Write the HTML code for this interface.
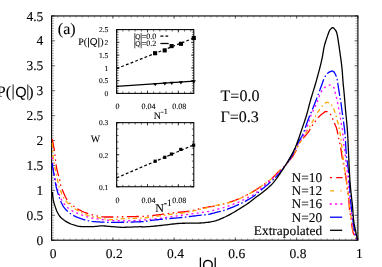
<!DOCTYPE html>
<html><head><meta charset="utf-8"><title>plot</title>
<style>html,body{margin:0;padding:0;background:#fff;}body{width:382px;height:267px;overflow:hidden;position:relative;font-family:"Liberation Serif",serif;}</style>
</head><body>
<svg width="382" height="267" viewBox="0 0 382 267" style="position:absolute;left:0;top:0">
<rect x="0" y="0" width="382" height="267" fill="#fff"/>
<path d="M51.60 240.2 v-1.92 M51.60 15.95 v1.92 M57.73 240.2 v-1.92 M57.73 15.95 v1.92 M63.85 240.2 v-1.92 M63.85 15.95 v1.92 M69.98 240.2 v-1.92 M69.98 15.95 v1.92 M76.10 240.2 v-1.92 M76.10 15.95 v1.92 M82.23 240.2 v-1.92 M82.23 15.95 v1.92 M88.36 240.2 v-1.92 M88.36 15.95 v1.92 M94.48 240.2 v-1.92 M94.48 15.95 v1.92 M100.61 240.2 v-1.92 M100.61 15.95 v1.92 M106.73 240.2 v-1.92 M106.73 15.95 v1.92 M112.86 240.2 v-1.92 M112.86 15.95 v1.92 M118.99 240.2 v-1.92 M118.99 15.95 v1.92 M125.11 240.2 v-1.92 M125.11 15.95 v1.92 M131.24 240.2 v-1.92 M131.24 15.95 v1.92 M137.36 240.2 v-1.92 M137.36 15.95 v1.92 M143.49 240.2 v-1.92 M143.49 15.95 v1.92 M149.62 240.2 v-1.92 M149.62 15.95 v1.92 M155.74 240.2 v-1.92 M155.74 15.95 v1.92 M161.87 240.2 v-1.92 M161.87 15.95 v1.92 M167.99 240.2 v-1.92 M167.99 15.95 v1.92 M174.12 240.2 v-1.92 M174.12 15.95 v1.92 M180.25 240.2 v-1.92 M180.25 15.95 v1.92 M186.37 240.2 v-1.92 M186.37 15.95 v1.92 M192.50 240.2 v-1.92 M192.50 15.95 v1.92 M198.62 240.2 v-1.92 M198.62 15.95 v1.92 M204.75 240.2 v-1.92 M204.75 15.95 v1.92 M210.88 240.2 v-1.92 M210.88 15.95 v1.92 M217.00 240.2 v-1.92 M217.00 15.95 v1.92 M223.13 240.2 v-1.92 M223.13 15.95 v1.92 M229.25 240.2 v-1.92 M229.25 15.95 v1.92 M235.38 240.2 v-1.92 M235.38 15.95 v1.92 M241.51 240.2 v-1.92 M241.51 15.95 v1.92 M247.63 240.2 v-1.92 M247.63 15.95 v1.92 M253.76 240.2 v-1.92 M253.76 15.95 v1.92 M259.88 240.2 v-1.92 M259.88 15.95 v1.92 M266.01 240.2 v-1.92 M266.01 15.95 v1.92 M272.14 240.2 v-1.92 M272.14 15.95 v1.92 M278.26 240.2 v-1.92 M278.26 15.95 v1.92 M284.39 240.2 v-1.92 M284.39 15.95 v1.92 M290.51 240.2 v-1.92 M290.51 15.95 v1.92 M296.64 240.2 v-1.92 M296.64 15.95 v1.92 M302.77 240.2 v-1.92 M302.77 15.95 v1.92 M308.89 240.2 v-1.92 M308.89 15.95 v1.92 M315.02 240.2 v-1.92 M315.02 15.95 v1.92 M321.14 240.2 v-1.92 M321.14 15.95 v1.92 M327.27 240.2 v-1.92 M327.27 15.95 v1.92 M333.40 240.2 v-1.92 M333.40 15.95 v1.92 M339.52 240.2 v-1.92 M339.52 15.95 v1.92 M345.65 240.2 v-1.92 M345.65 15.95 v1.92 M351.77 240.2 v-1.92 M351.77 15.95 v1.92 M357.90 240.2 v-1.92 M357.90 15.95 v1.92 M51.6 240.20 h2.4 M357.9 240.20 h-2.4 M51.6 237.71 h2.4 M357.9 237.71 h-2.4 M51.6 235.22 h2.4 M357.9 235.22 h-2.4 M51.6 232.72 h2.4 M357.9 232.72 h-2.4 M51.6 230.23 h2.4 M357.9 230.23 h-2.4 M51.6 227.74 h2.4 M357.9 227.74 h-2.4 M51.6 225.25 h2.4 M357.9 225.25 h-2.4 M51.6 222.76 h2.4 M357.9 222.76 h-2.4 M51.6 220.27 h2.4 M357.9 220.27 h-2.4 M51.6 217.77 h2.4 M357.9 217.77 h-2.4 M51.6 215.28 h2.4 M357.9 215.28 h-2.4 M51.6 212.79 h2.4 M357.9 212.79 h-2.4 M51.6 210.30 h2.4 M357.9 210.30 h-2.4 M51.6 207.81 h2.4 M357.9 207.81 h-2.4 M51.6 205.32 h2.4 M357.9 205.32 h-2.4 M51.6 202.82 h2.4 M357.9 202.82 h-2.4 M51.6 200.33 h2.4 M357.9 200.33 h-2.4 M51.6 197.84 h2.4 M357.9 197.84 h-2.4 M51.6 195.35 h2.4 M357.9 195.35 h-2.4 M51.6 192.86 h2.4 M357.9 192.86 h-2.4 M51.6 190.37 h2.4 M357.9 190.37 h-2.4 M51.6 187.88 h2.4 M357.9 187.88 h-2.4 M51.6 185.38 h2.4 M357.9 185.38 h-2.4 M51.6 182.89 h2.4 M357.9 182.89 h-2.4 M51.6 180.40 h2.4 M357.9 180.40 h-2.4 M51.6 177.91 h2.4 M357.9 177.91 h-2.4 M51.6 175.42 h2.4 M357.9 175.42 h-2.4 M51.6 172.92 h2.4 M357.9 172.92 h-2.4 M51.6 170.43 h2.4 M357.9 170.43 h-2.4 M51.6 167.94 h2.4 M357.9 167.94 h-2.4 M51.6 165.45 h2.4 M357.9 165.45 h-2.4 M51.6 162.96 h2.4 M357.9 162.96 h-2.4 M51.6 160.47 h2.4 M357.9 160.47 h-2.4 M51.6 157.97 h2.4 M357.9 157.97 h-2.4 M51.6 155.48 h2.4 M357.9 155.48 h-2.4 M51.6 152.99 h2.4 M357.9 152.99 h-2.4 M51.6 150.50 h2.4 M357.9 150.50 h-2.4 M51.6 148.01 h2.4 M357.9 148.01 h-2.4 M51.6 145.52 h2.4 M357.9 145.52 h-2.4 M51.6 143.02 h2.4 M357.9 143.02 h-2.4 M51.6 140.53 h2.4 M357.9 140.53 h-2.4 M51.6 138.04 h2.4 M357.9 138.04 h-2.4 M51.6 135.55 h2.4 M357.9 135.55 h-2.4 M51.6 133.06 h2.4 M357.9 133.06 h-2.4 M51.6 130.57 h2.4 M357.9 130.57 h-2.4 M51.6 128.07 h2.4 M357.9 128.07 h-2.4 M51.6 125.58 h2.4 M357.9 125.58 h-2.4 M51.6 123.09 h2.4 M357.9 123.09 h-2.4 M51.6 120.60 h2.4 M357.9 120.60 h-2.4 M51.6 118.11 h2.4 M357.9 118.11 h-2.4 M51.6 115.62 h2.4 M357.9 115.62 h-2.4 M51.6 113.12 h2.4 M357.9 113.12 h-2.4 M51.6 110.63 h2.4 M357.9 110.63 h-2.4 M51.6 108.14 h2.4 M357.9 108.14 h-2.4 M51.6 105.65 h2.4 M357.9 105.65 h-2.4 M51.6 103.16 h2.4 M357.9 103.16 h-2.4 M51.6 100.67 h2.4 M357.9 100.67 h-2.4 M51.6 98.17 h2.4 M357.9 98.17 h-2.4 M51.6 95.68 h2.4 M357.9 95.68 h-2.4 M51.6 93.19 h2.4 M357.9 93.19 h-2.4 M51.6 90.70 h2.4 M357.9 90.70 h-2.4 M51.6 88.21 h2.4 M357.9 88.21 h-2.4 M51.6 85.72 h2.4 M357.9 85.72 h-2.4 M51.6 83.22 h2.4 M357.9 83.22 h-2.4 M51.6 80.73 h2.4 M357.9 80.73 h-2.4 M51.6 78.24 h2.4 M357.9 78.24 h-2.4 M51.6 75.75 h2.4 M357.9 75.75 h-2.4 M51.6 73.26 h2.4 M357.9 73.26 h-2.4 M51.6 70.77 h2.4 M357.9 70.77 h-2.4 M51.6 68.27 h2.4 M357.9 68.27 h-2.4 M51.6 65.78 h2.4 M357.9 65.78 h-2.4 M51.6 63.29 h2.4 M357.9 63.29 h-2.4 M51.6 60.80 h2.4 M357.9 60.80 h-2.4 M51.6 58.31 h2.4 M357.9 58.31 h-2.4 M51.6 55.82 h2.4 M357.9 55.82 h-2.4 M51.6 53.32 h2.4 M357.9 53.32 h-2.4 M51.6 50.83 h2.4 M357.9 50.83 h-2.4 M51.6 48.34 h2.4 M357.9 48.34 h-2.4 M51.6 45.85 h2.4 M357.9 45.85 h-2.4 M51.6 43.36 h2.4 M357.9 43.36 h-2.4 M51.6 40.87 h2.4 M357.9 40.87 h-2.4 M51.6 38.38 h2.4 M357.9 38.38 h-2.4 M51.6 35.88 h2.4 M357.9 35.88 h-2.4 M51.6 33.39 h2.4 M357.9 33.39 h-2.4 M51.6 30.90 h2.4 M357.9 30.90 h-2.4 M51.6 28.41 h2.4 M357.9 28.41 h-2.4 M51.6 25.92 h2.4 M357.9 25.92 h-2.4 M51.6 23.42 h2.4 M357.9 23.42 h-2.4 M51.6 20.93 h2.4 M357.9 20.93 h-2.4 M51.6 18.44 h2.4 M357.9 18.44 h-2.4 M51.6 15.95 h2.4 M357.9 15.95 h-2.4" stroke="#666" stroke-width="0.5" fill="none"/>
<path d="M51.60 240.2 v-2.80 M51.60 15.95 v2.80 M112.86 240.2 v-2.80 M112.86 15.95 v2.80 M174.12 240.2 v-2.80 M174.12 15.95 v2.80 M235.38 240.2 v-2.80 M235.38 15.95 v2.80 M296.64 240.2 v-2.80 M296.64 15.95 v2.80 M357.90 240.2 v-2.80 M357.90 15.95 v2.80 M51.6 240.20 h3.5 M357.9 240.20 h-3.5 M51.6 215.28 h3.5 M357.9 215.28 h-3.5 M51.6 190.37 h3.5 M357.9 190.37 h-3.5 M51.6 165.45 h3.5 M357.9 165.45 h-3.5 M51.6 140.53 h3.5 M357.9 140.53 h-3.5 M51.6 115.62 h3.5 M357.9 115.62 h-3.5 M51.6 90.70 h3.5 M357.9 90.70 h-3.5 M51.6 65.78 h3.5 M357.9 65.78 h-3.5 M51.6 40.87 h3.5 M357.9 40.87 h-3.5 M51.6 15.95 h3.5 M357.9 15.95 h-3.5" stroke="#555" stroke-width="0.8" fill="none"/>
<rect x="51.6" y="15.95" width="306.30" height="224.25" fill="none" stroke="#000" stroke-width="1.1"/>
<path d="M52.20 139.20 L52.47 140.43 L52.73 141.66 L52.99 142.89 L53.23 144.13 L53.47 145.36 L53.70 146.60 L53.93 147.84 L54.15 149.08 L54.35 150.32 L54.54 151.56 L54.70 152.81 L54.85 154.06 L54.99 155.31 L55.13 156.56 L55.27 157.82 L55.40 159.07 L55.54 160.32 L55.67 161.57 L55.82 162.82 L55.99 164.07 L56.19 165.31 L56.40 166.55 L56.62 167.79 L56.86 169.03 L57.12 170.26 L57.41 171.48 L57.72 172.70 L58.06 173.91 L58.40 175.12 L58.75 176.34 L59.09 177.55 L59.41 178.77 L59.71 179.99 L59.97 181.22 L60.19 182.46 L60.41 183.71 L60.66 184.94 L60.98 186.15 L61.36 187.34 L61.79 188.53 L62.26 189.70 L62.75 190.87 L63.25 192.02 L63.76 193.18 L64.27 194.35 L64.81 195.52 L65.36 196.68 L65.94 197.81 L66.55 198.92 L67.20 199.98 L67.89 200.99 L68.64 201.94 L69.49 202.85 L70.42 203.72 L71.40 204.55 L72.41 205.34 L73.42 206.09 L74.44 206.81 L75.48 207.51 L76.54 208.20 L77.62 208.86 L78.72 209.51 L79.84 210.12 L80.96 210.70 L82.10 211.25 L83.24 211.76 L84.39 212.24 L85.55 212.69 L86.73 213.13 L87.93 213.55 L89.14 213.94 L90.35 214.30 L91.57 214.64 L92.79 214.94 L94.01 215.21 L95.24 215.49 L96.47 215.77 L97.71 216.04 L98.95 216.29 L100.20 216.52 L101.45 216.72 L102.70 216.87 L103.95 216.97 L105.20 217.00 L106.46 217.00 L107.71 217.00 L108.97 217.00 L110.23 217.00 L111.49 217.00 L112.75 217.00 L114.01 216.99 L115.27 216.96 L116.53 216.93 L117.79 216.90 L119.04 216.86 L120.30 216.82 L121.56 216.78 L122.82 216.75 L124.08 216.72 L125.34 216.69 L126.59 216.67 L127.85 216.65 L129.11 216.63 L130.37 216.61 L131.63 216.59 L132.89 216.58 L134.15 216.56 L135.41 216.54 L136.67 216.52 L137.92 216.49 L139.18 216.47 L140.44 216.44 L141.69 216.40 L142.95 216.35 L144.21 216.29 L145.46 216.20 L146.71 216.10 L147.97 215.99 L149.22 215.86 L150.47 215.73 L151.73 215.59 L152.98 215.45 L154.23 215.30 L155.48 215.15 L156.73 215.00 L157.98 214.86 L159.23 214.72 L160.48 214.56 L161.73 214.40 L162.98 214.23 L164.22 214.06 L165.47 213.89 L166.72 213.71 L167.96 213.53 L169.21 213.36 L170.46 213.20 L171.71 213.04 L172.96 212.89 L174.21 212.75 L175.46 212.61 L176.72 212.49 L177.97 212.36 L179.23 212.24 L180.48 212.12 L181.74 212.00 L182.99 211.87 L184.24 211.74 L185.49 211.59 L186.74 211.44 L187.98 211.28 L189.23 211.10 L190.46 210.91 L191.69 210.67 L192.92 210.40 L194.14 210.10 L195.36 209.79 L196.58 209.46 L197.80 209.14 L199.03 208.82 L200.25 208.52 L201.48 208.25 L202.71 208.00 L203.95 207.76 L205.19 207.54 L206.43 207.33 L207.67 207.12 L208.92 206.92 L210.16 206.72 L211.40 206.52 L212.65 206.31 L213.89 206.10 L215.13 205.88 L216.36 205.64 L217.59 205.39 L218.82 205.13 L220.04 204.85 L221.27 204.55 L222.49 204.24 L223.71 203.92 L224.92 203.59 L226.14 203.24 L227.35 202.88 L228.55 202.51 L229.75 202.14 L230.95 201.75 L232.14 201.35 L233.32 200.94 L234.51 200.52 L235.69 200.07 L236.86 199.61 L238.04 199.14 L239.20 198.65 L240.36 198.15 L241.52 197.64 L242.66 197.12 L243.80 196.58 L244.92 196.04 L246.04 195.48 L247.16 194.91 L248.26 194.32 L249.37 193.71 L250.46 193.09 L251.56 192.46 L252.64 191.82 L253.72 191.16 L254.80 190.50 L255.87 189.83 L256.94 189.15 L258.00 188.46 L259.05 187.77 L260.10 187.07 L261.15 186.37 L262.18 185.67 L263.22 184.96 L264.26 184.24 L265.29 183.51 L266.31 182.77 L267.32 182.01 L268.33 181.25 L269.32 180.47 L270.29 179.68 L271.25 178.87 L272.20 178.05 L273.11 177.19 L274.01 176.31 L274.89 175.41 L275.76 174.50 L276.64 173.59 L277.51 172.68 L278.41 171.79 L279.32 170.92 L280.24 170.07 L281.17 169.22 L282.11 168.37 L283.03 167.52 L283.95 166.65 L284.85 165.77 L285.72 164.87 L286.57 163.95 L287.41 163.01 L288.24 162.06 L289.05 161.09 L289.83 160.10 L290.60 159.11 L291.35 158.10 L292.10 157.08 L292.83 156.05 L293.54 155.00 L294.22 153.94 L294.85 152.86 L295.44 151.76 L295.97 150.62 L296.47 149.46 L296.96 148.29 L297.44 147.12 L297.95 145.97 L298.50 144.84 L299.12 143.76 L299.79 142.70 L300.50 141.66 L301.25 140.64 L302.02 139.63 L302.79 138.64 L303.60 137.68 L304.45 136.74 L305.31 135.81 L306.17 134.88 L307.01 133.94 L307.79 132.96 L308.51 131.95 L309.16 130.87 L309.77 129.77 L310.39 128.67 L311.03 127.58 L311.70 126.52 L312.39 125.46 L313.08 124.41 L313.78 123.37 L314.50 122.33 L315.24 121.31 L315.98 120.28 L316.74 119.28 L317.54 118.31 L318.38 117.39 L319.26 116.48 L320.17 115.61 L321.12 114.76 L322.10 113.96 L323.09 113.20 L324.12 112.37 L325.21 111.66 L326.38 111.52 L327.70 111.72 L328.75 112.06 L329.58 112.86 L330.31 114.00 L330.96 115.26 L331.56 116.40 L332.12 117.52 L332.64 118.67 L333.12 119.83 L333.59 121.01 L334.05 122.19 L334.53 123.35 L335.03 124.52 L335.53 125.68 L336.01 126.85 L336.44 128.03 L336.81 129.22 L337.09 130.44 L337.34 131.68 L337.59 132.92 L337.83 134.15 L338.06 135.39 L338.30 136.62 L338.55 137.86 L338.81 139.09 L339.09 140.32 L339.38 141.54 L339.67 142.77 L339.94 144.00 L340.18 145.23 L340.42 146.47 L340.64 147.70 L340.86 148.95 L341.07 150.19 L341.26 151.43 L341.44 152.68 L341.61 153.92 L341.79 155.17 L341.99 156.41 L342.20 157.65 L342.44 158.89 L342.69 160.12 L342.96 161.35 L343.23 162.58 L343.50 163.81 L343.76 165.04 L344.01 166.27 L344.26 167.51 L344.48 168.75 L344.68 169.99 L344.88 171.23 L345.07 172.48 L345.27 173.72 L345.48 174.96 L345.70 176.20 L345.91 177.44 L346.12 178.68 L346.29 179.93 L346.43 181.18 L346.56 182.43 L346.67 183.69 L346.77 184.94 L346.87 186.20 L346.99 187.45 L347.12 188.70 L347.27 189.95 L347.48 191.19 L347.71 192.43 L347.96 193.67 L348.20 194.90 L348.42 196.14 L348.59 197.39 L348.72 198.64 L348.82 199.89 L348.92 201.14 L349.00 202.40 L349.08 203.66 L349.17 204.92 L349.25 206.17 L349.35 207.43 L349.47 208.68 L349.60 209.93 L349.77 211.18 L349.95 212.42 L350.14 213.66 L350.35 214.91 L350.56 216.15 L350.77 217.39 L350.98 218.63 L351.18 219.88 L351.36 221.13 L351.53 222.38 L351.69 223.65 L351.84 224.91 L351.99 226.17 L352.16 227.43 L352.34 228.68 L352.55 229.91 L352.78 231.13 L353.06 232.33 L353.42 233.51 L353.93 234.67 L354.52 235.80 L355.14 236.90 L355.80 237.97 L356.52 239.00 L357.30 240.00" fill="none" stroke="#ff0000" stroke-width="1.3" stroke-dasharray="12 3.5 1.5 3.5 1.5 3.5" stroke-linejoin="round"/>
<path d="M52.30 143.00 L52.37 144.30 L52.43 145.59 L52.49 146.89 L52.56 148.18 L52.62 149.48 L52.68 150.78 L52.73 152.08 L52.79 153.37 L52.87 154.67 L52.98 155.96 L53.15 157.24 L53.37 158.52 L53.60 159.80 L53.81 161.08 L54.02 162.36 L54.23 163.64 L54.45 164.92 L54.68 166.20 L54.92 167.48 L55.17 168.75 L55.43 170.02 L55.69 171.29 L55.96 172.56 L56.23 173.83 L56.51 175.10 L56.78 176.37 L57.06 177.64 L57.33 178.90 L57.61 180.17 L57.87 181.45 L58.13 182.72 L58.40 183.99 L58.71 185.25 L59.05 186.49 L59.44 187.73 L59.86 188.96 L60.30 190.19 L60.76 191.40 L61.23 192.61 L61.72 193.83 L62.25 195.02 L62.81 196.19 L63.43 197.30 L64.11 198.39 L64.84 199.48 L65.63 200.54 L66.45 201.58 L67.31 202.58 L68.20 203.55 L69.11 204.46 L70.03 205.32 L71.00 206.13 L72.03 206.91 L73.09 207.65 L74.19 208.37 L75.31 209.06 L76.45 209.73 L77.59 210.38 L78.72 211.01 L79.86 211.64 L81.00 212.27 L82.15 212.90 L83.32 213.50 L84.50 214.07 L85.68 214.61 L86.88 215.09 L88.09 215.51 L89.32 215.86 L90.56 216.19 L91.81 216.50 L93.08 216.78 L94.36 217.04 L95.64 217.29 L96.93 217.53 L98.22 217.75 L99.50 217.98 L100.78 218.20 L102.06 218.45 L103.34 218.70 L104.62 218.95 L105.90 219.18 L107.19 219.38 L108.48 219.52 L109.76 219.59 L111.05 219.59 L112.34 219.56 L113.64 219.49 L114.93 219.40 L116.22 219.29 L117.52 219.18 L118.81 219.06 L120.11 218.94 L121.41 218.82 L122.70 218.72 L124.00 218.64 L125.30 218.58 L126.59 218.53 L127.89 218.49 L129.19 218.46 L130.49 218.42 L131.79 218.39 L133.09 218.37 L134.38 218.34 L135.68 218.31 L136.98 218.27 L138.28 218.23 L139.57 218.19 L140.86 218.14 L142.16 218.08 L143.45 217.99 L144.74 217.88 L146.03 217.75 L147.32 217.60 L148.60 217.43 L149.89 217.25 L151.18 217.06 L152.46 216.87 L153.75 216.68 L155.04 216.49 L156.32 216.30 L157.61 216.12 L158.89 215.95 L160.18 215.78 L161.47 215.61 L162.75 215.43 L164.04 215.26 L165.33 215.08 L166.61 214.91 L167.90 214.73 L169.18 214.56 L170.47 214.39 L171.76 214.23 L173.05 214.07 L174.34 213.93 L175.63 213.79 L176.92 213.65 L178.21 213.51 L179.50 213.37 L180.79 213.23 L182.08 213.07 L183.37 212.91 L184.65 212.72 L185.92 212.52 L187.20 212.29 L188.47 212.05 L189.74 211.78 L191.00 211.50 L192.27 211.21 L193.53 210.91 L194.80 210.60 L196.06 210.28 L197.32 209.97 L198.58 209.65 L199.85 209.34 L201.11 209.04 L202.37 208.74 L203.63 208.44 L204.89 208.14 L206.15 207.83 L207.41 207.52 L208.67 207.20 L209.93 206.89 L211.19 206.57 L212.45 206.26 L213.71 205.95 L214.97 205.64 L216.23 205.34 L217.50 205.04 L218.76 204.74 L220.03 204.46 L221.30 204.19 L222.58 203.94 L223.86 203.68 L225.14 203.43 L226.42 203.17 L227.69 202.90 L228.95 202.61 L230.21 202.30 L231.44 201.96 L232.67 201.59 L233.89 201.18 L235.10 200.72 L236.30 200.23 L237.49 199.71 L238.68 199.16 L239.86 198.60 L241.03 198.02 L242.20 197.43 L243.36 196.84 L244.51 196.25 L245.66 195.66 L246.81 195.06 L247.95 194.44 L249.09 193.81 L250.22 193.18 L251.34 192.53 L252.47 191.87 L253.58 191.20 L254.70 190.52 L255.80 189.84 L256.90 189.14 L258.00 188.44 L259.09 187.74 L260.17 187.02 L261.25 186.30 L262.32 185.58 L263.39 184.85 L264.45 184.10 L265.51 183.35 L266.57 182.58 L267.61 181.80 L268.64 181.00 L269.66 180.20 L270.66 179.37 L271.64 178.54 L272.60 177.68 L273.54 176.78 L274.45 175.86 L275.35 174.93 L276.25 173.99 L277.16 173.05 L278.07 172.12 L279.00 171.22 L279.95 170.33 L280.91 169.46 L281.88 168.58 L282.84 167.71 L283.79 166.82 L284.71 165.92 L285.61 164.99 L286.49 164.03 L287.34 163.06 L288.18 162.06 L289.00 161.05 L289.80 160.03 L290.58 158.99 L291.34 157.95 L292.10 156.88 L292.84 155.81 L293.55 154.72 L294.22 153.61 L294.86 152.49 L295.44 151.34 L295.97 150.15 L296.47 148.94 L296.97 147.74 L297.48 146.54 L298.04 145.37 L298.65 144.24 L299.35 143.16 L300.12 142.11 L300.90 141.06 L301.66 140.01 L302.37 138.92 L303.04 137.81 L303.70 136.69 L304.36 135.57 L305.03 134.46 L305.71 133.36 L306.41 132.26 L307.10 131.16 L307.78 130.06 L308.45 128.95 L309.10 127.82 L309.74 126.69 L310.37 125.56 L311.00 124.43 L311.63 123.29 L312.26 122.16 L312.89 121.02 L313.53 119.89 L314.16 118.76 L314.78 117.61 L315.40 116.47 L316.03 115.32 L316.66 114.19 L317.30 113.06 L317.97 111.95 L318.66 110.86 L319.38 109.79 L320.12 108.71 L320.89 107.64 L321.70 106.60 L322.55 105.63 L323.46 104.74 L324.46 103.80 L325.54 102.90 L326.67 102.35 L327.86 102.41 L329.14 102.93 L330.22 103.59 L331.10 104.42 L331.89 105.48 L332.59 106.67 L333.21 107.89 L333.75 109.05 L334.23 110.22 L334.68 111.43 L335.09 112.67 L335.48 113.92 L335.85 115.18 L336.20 116.45 L336.55 117.71 L336.90 118.96 L337.25 120.21 L337.59 121.46 L337.93 122.72 L338.25 123.97 L338.56 125.24 L338.85 126.50 L339.12 127.77 L339.36 129.04 L339.59 130.32 L339.81 131.59 L340.01 132.88 L340.20 134.16 L340.38 135.45 L340.56 136.73 L340.74 138.02 L340.91 139.31 L341.08 140.59 L341.24 141.88 L341.40 143.17 L341.56 144.46 L341.71 145.75 L341.85 147.04 L342.00 148.33 L342.14 149.62 L342.29 150.90 L342.43 152.19 L342.58 153.48 L342.73 154.77 L342.88 156.06 L343.04 157.35 L343.21 158.64 L343.37 159.92 L343.54 161.21 L343.70 162.50 L343.87 163.78 L344.04 165.07 L344.22 166.36 L344.39 167.64 L344.57 168.93 L344.75 170.21 L344.93 171.50 L345.11 172.78 L345.31 174.07 L345.51 175.35 L345.71 176.63 L345.92 177.91 L346.13 179.19 L346.34 180.47 L346.56 181.75 L346.76 183.03 L346.97 184.32 L347.17 185.60 L347.37 186.88 L347.55 188.16 L347.73 189.45 L347.89 190.74 L348.05 192.02 L348.20 193.31 L348.34 194.60 L348.48 195.89 L348.62 197.18 L348.75 198.47 L348.88 199.76 L349.01 201.06 L349.15 202.35 L349.28 203.64 L349.42 204.93 L349.57 206.22 L349.72 207.51 L349.87 208.80 L350.04 210.08 L350.22 211.37 L350.40 212.65 L350.59 213.94 L350.78 215.22 L350.97 216.50 L351.17 217.79 L351.36 219.07 L351.55 220.35 L351.73 221.64 L351.89 222.94 L352.05 224.24 L352.21 225.55 L352.38 226.84 L352.56 228.13 L352.76 229.41 L353.00 230.68 L353.26 231.92 L353.59 233.15 L354.06 234.36 L354.63 235.54 L355.24 236.70 L355.87 237.83 L356.56 238.93 L357.30 240.00" fill="none" stroke="#ffa500" stroke-width="1.3" stroke-dasharray="4.5 3 1.5 3" stroke-linejoin="round"/>
<path d="M52.10 157.50 L52.20 158.86 L52.31 160.21 L52.45 161.56 L52.59 162.91 L52.76 164.26 L52.95 165.61 L53.16 166.95 L53.37 168.29 L53.58 169.63 L53.79 170.97 L54.02 172.32 L54.24 173.66 L54.47 175.00 L54.69 176.34 L54.92 177.68 L55.16 179.01 L55.43 180.34 L55.73 181.67 L56.03 182.99 L56.35 184.31 L56.68 185.63 L57.02 186.95 L57.36 188.27 L57.73 189.58 L58.11 190.88 L58.51 192.17 L58.94 193.47 L59.40 194.75 L59.88 196.02 L60.40 197.27 L60.96 198.51 L61.57 199.74 L62.22 200.95 L62.93 202.10 L63.69 203.19 L64.53 204.27 L65.42 205.32 L66.37 206.35 L67.36 207.32 L68.38 208.23 L69.43 209.06 L70.50 209.81 L71.63 210.50 L72.81 211.15 L74.03 211.77 L75.29 212.35 L76.56 212.90 L77.83 213.44 L79.11 213.95 L80.37 214.45 L81.63 214.94 L82.91 215.42 L84.19 215.88 L85.48 216.33 L86.78 216.74 L88.09 217.12 L89.40 217.46 L90.72 217.76 L92.04 218.02 L93.38 218.27 L94.72 218.50 L96.06 218.71 L97.41 218.91 L98.76 219.11 L100.11 219.29 L101.45 219.47 L102.80 219.66 L104.15 219.85 L105.50 220.03 L106.85 220.20 L108.20 220.35 L109.56 220.47 L110.91 220.56 L112.26 220.61 L113.62 220.64 L114.98 220.68 L116.33 220.71 L117.69 220.73 L119.05 220.75 L120.41 220.77 L121.77 220.79 L123.13 220.80 L124.49 220.80 L125.85 220.80 L127.21 220.78 L128.57 220.75 L129.92 220.70 L131.28 220.65 L132.64 220.59 L134.00 220.53 L135.35 220.46 L136.71 220.38 L138.07 220.30 L139.43 220.23 L140.78 220.15 L142.14 220.08 L143.50 220.00 L144.85 219.91 L146.21 219.81 L147.56 219.71 L148.92 219.59 L150.27 219.48 L151.62 219.34 L152.97 219.20 L154.32 219.04 L155.67 218.88 L157.02 218.70 L158.36 218.52 L159.71 218.34 L161.06 218.15 L162.40 217.96 L163.75 217.77 L165.09 217.58 L166.44 217.40 L167.79 217.21 L169.13 217.02 L170.47 216.82 L171.82 216.62 L173.16 216.42 L174.51 216.22 L175.85 216.02 L177.19 215.82 L178.54 215.62 L179.88 215.43 L181.23 215.24 L182.57 215.05 L183.92 214.87 L185.27 214.69 L186.61 214.51 L187.96 214.33 L189.31 214.15 L190.66 213.97 L192.00 213.80 L193.35 213.62 L194.70 213.44 L196.04 213.26 L197.39 213.07 L198.74 212.90 L200.09 212.72 L201.44 212.55 L202.79 212.38 L204.13 212.19 L205.48 212.00 L206.82 211.79 L208.15 211.55 L209.48 211.28 L210.80 210.97 L212.12 210.64 L213.44 210.29 L214.75 209.95 L216.07 209.61 L217.38 209.27 L218.70 208.94 L220.02 208.59 L221.33 208.24 L222.64 207.88 L223.94 207.50 L225.24 207.10 L226.54 206.70 L227.83 206.28 L229.12 205.84 L230.40 205.39 L231.68 204.93 L232.95 204.46 L234.22 203.97 L235.49 203.47 L236.74 202.95 L237.99 202.42 L239.24 201.87 L240.47 201.31 L241.69 200.72 L242.91 200.11 L244.12 199.49 L245.32 198.86 L246.53 198.24 L247.75 197.63 L248.98 197.04 L250.22 196.45 L251.44 195.85 L252.64 195.22 L253.78 194.52 L254.88 193.76 L255.95 192.93 L256.99 192.06 L258.02 191.16 L259.04 190.24 L260.06 189.33 L261.09 188.42 L262.13 187.54 L263.17 186.67 L264.22 185.80 L265.26 184.94 L266.31 184.07 L267.35 183.19 L268.39 182.31 L269.42 181.43 L270.44 180.53 L271.44 179.63 L272.44 178.71 L273.43 177.77 L274.41 176.83 L275.38 175.88 L276.34 174.91 L277.29 173.95 L278.24 172.97 L279.18 171.99 L280.12 171.01 L281.06 170.03 L282.00 169.04 L282.92 168.04 L283.83 167.03 L284.73 166.01 L285.61 164.97 L286.46 163.92 L287.29 162.85 L288.10 161.76 L288.89 160.65 L289.65 159.52 L290.40 158.39 L291.13 157.24 L291.84 156.08 L292.53 154.91 L293.20 153.73 L293.85 152.53 L294.45 151.32 L295.03 150.08 L295.58 148.84 L296.13 147.59 L296.69 146.35 L297.28 145.12 L297.89 143.91 L298.55 142.74 L299.29 141.60 L300.07 140.49 L300.87 139.38 L301.66 138.27 L302.48 137.18 L303.31 136.08 L304.05 134.95 L304.66 133.78 L305.20 132.57 L305.71 131.33 L306.18 130.07 L306.62 128.79 L307.04 127.49 L307.45 126.18 L307.84 124.86 L308.23 123.54 L308.62 122.22 L309.02 120.90 L309.44 119.60 L309.88 118.30 L310.34 117.02 L310.84 115.76 L311.37 114.51 L311.93 113.28 L312.50 112.05 L313.10 110.82 L313.70 109.60 L314.30 108.38 L314.90 107.16 L315.49 105.93 L316.06 104.70 L316.62 103.46 L317.14 102.20 L317.62 100.91 L318.09 99.60 L318.54 98.29 L319.00 96.99 L319.47 95.70 L319.98 94.44 L320.52 93.21 L321.12 92.03 L321.78 90.91 L322.56 89.78 L323.44 88.67 L324.42 87.66 L325.45 86.82 L326.57 86.15 L327.85 85.52 L329.18 85.09 L330.48 85.06 L331.80 85.62 L332.82 86.38 L333.71 87.42 L334.46 88.68 L334.93 90.01 L335.08 91.32 L335.14 92.70 L335.30 94.04 L335.67 95.34 L336.15 96.62 L336.61 97.92 L336.94 99.23 L337.21 100.56 L337.46 101.90 L337.70 103.24 L337.94 104.58 L338.17 105.92 L338.40 107.25 L338.66 108.59 L338.96 109.91 L339.32 111.23 L339.67 112.54 L339.96 113.87 L340.15 115.21 L340.30 116.56 L340.43 117.91 L340.59 119.26 L340.80 120.60 L341.04 121.94 L341.29 123.28 L341.53 124.62 L341.77 125.95 L342.03 127.29 L342.27 128.63 L342.47 129.97 L342.61 131.32 L342.72 132.67 L342.83 134.03 L342.96 135.38 L343.10 136.73 L343.25 138.08 L343.40 139.43 L343.52 140.79 L343.62 142.14 L343.72 143.50 L343.82 144.85 L343.96 146.20 L344.18 147.54 L344.45 148.88 L344.70 150.21 L344.88 151.56 L345.03 152.91 L345.17 154.26 L345.30 155.61 L345.44 156.97 L345.57 158.32 L345.69 159.67 L345.82 161.03 L345.96 162.38 L346.10 163.73 L346.26 165.08 L346.44 166.42 L346.66 167.76 L346.89 169.10 L347.10 170.45 L347.29 171.79 L347.47 173.14 L347.64 174.49 L347.80 175.84 L347.94 177.19 L348.08 178.54 L348.21 179.89 L348.33 181.24 L348.45 182.60 L348.56 183.95 L348.67 185.30 L348.78 186.66 L348.89 188.01 L349.00 189.37 L349.11 190.72 L349.23 192.08 L349.35 193.43 L349.48 194.78 L349.61 196.13 L349.75 197.49 L349.89 198.84 L350.03 200.19 L350.17 201.54 L350.32 202.89 L350.47 204.24 L350.62 205.59 L350.77 206.94 L350.92 208.29 L351.07 209.64 L351.22 210.99 L351.38 212.34 L351.53 213.69 L351.69 215.04 L351.85 216.39 L352.01 217.74 L352.18 219.09 L352.36 220.44 L352.53 221.79 L352.70 223.14 L352.87 224.50 L353.05 225.85 L353.24 227.20 L353.44 228.55 L353.67 229.88 L353.92 231.21 L354.21 232.52 L354.57 233.83 L355.02 235.11 L355.53 236.38 L356.08 237.62 L356.71 238.82 L357.40 240.00" fill="none" stroke="#ff00ff" stroke-width="1.3" stroke-dasharray="2 3.3" stroke-linejoin="round"/>
<path d="M52.20 163.00 L52.34 164.42 L52.51 165.83 L52.71 167.24 L52.96 168.64 L53.21 170.04 L53.43 171.45 L53.65 172.85 L53.88 174.26 L54.11 175.66 L54.36 177.06 L54.62 178.46 L54.87 179.86 L55.12 181.26 L55.37 182.66 L55.61 184.07 L55.88 185.46 L56.18 186.85 L56.52 188.23 L56.90 189.60 L57.30 190.97 L57.70 192.34 L58.10 193.71 L58.51 195.07 L58.94 196.43 L59.40 197.77 L59.88 199.11 L60.39 200.45 L60.93 201.77 L61.52 203.05 L62.17 204.32 L62.87 205.58 L63.63 206.80 L64.45 207.96 L65.33 209.03 L66.29 210.08 L67.32 211.09 L68.41 212.06 L69.53 212.97 L70.69 213.81 L71.86 214.56 L73.06 215.25 L74.32 215.92 L75.61 216.54 L76.93 217.13 L78.26 217.68 L79.61 218.19 L80.96 218.66 L82.30 219.09 L83.66 219.52 L85.03 219.93 L86.41 220.33 L87.80 220.68 L89.19 220.99 L90.59 221.24 L91.99 221.42 L93.40 221.56 L94.81 221.68 L96.23 221.79 L97.66 221.89 L99.08 221.97 L100.51 222.04 L101.93 222.10 L103.35 222.16 L104.77 222.22 L106.20 222.28 L107.62 222.32 L109.04 222.36 L110.46 222.39 L111.89 222.40 L113.31 222.40 L114.73 222.39 L116.15 222.37 L117.58 222.35 L119.00 222.32 L120.42 222.29 L121.85 222.26 L123.27 222.23 L124.69 222.20 L126.11 222.17 L127.54 222.14 L128.96 222.12 L130.39 222.08 L131.81 222.05 L133.23 222.01 L134.66 221.97 L136.08 221.93 L137.50 221.88 L138.92 221.83 L140.34 221.77 L141.76 221.70 L143.17 221.59 L144.58 221.44 L145.99 221.25 L147.40 221.04 L148.81 220.82 L150.22 220.60 L151.63 220.39 L153.04 220.21 L154.46 220.05 L155.87 219.89 L157.29 219.74 L158.70 219.59 L160.12 219.45 L161.53 219.30 L162.95 219.17 L164.37 219.03 L165.78 218.89 L167.20 218.76 L168.62 218.63 L170.03 218.51 L171.45 218.39 L172.87 218.27 L174.29 218.16 L175.71 218.04 L177.12 217.91 L178.54 217.79 L179.96 217.65 L181.37 217.51 L182.79 217.36 L184.20 217.21 L185.62 217.04 L187.03 216.87 L188.44 216.69 L189.85 216.51 L191.26 216.33 L192.68 216.15 L194.09 215.98 L195.50 215.80 L196.91 215.63 L198.33 215.47 L199.75 215.33 L201.17 215.19 L202.58 215.05 L204.00 214.90 L205.41 214.74 L206.82 214.56 L208.22 214.35 L209.61 214.08 L211.00 213.75 L212.38 213.39 L213.75 213.01 L215.13 212.64 L216.51 212.30 L217.90 211.97 L219.29 211.64 L220.67 211.30 L222.05 210.94 L223.41 210.56 L224.77 210.13 L226.11 209.67 L227.45 209.18 L228.78 208.67 L230.11 208.15 L231.43 207.63 L232.75 207.10 L234.07 206.56 L235.38 206.00 L236.68 205.43 L237.98 204.85 L239.27 204.26 L240.56 203.65 L241.84 203.03 L243.11 202.39 L244.38 201.73 L245.64 201.06 L246.88 200.38 L248.12 199.68 L249.35 198.96 L250.57 198.22 L251.78 197.46 L252.96 196.68 L254.11 195.86 L255.24 195.00 L256.34 194.10 L257.43 193.19 L258.51 192.25 L259.59 191.31 L260.67 190.38 L261.75 189.46 L262.85 188.54 L263.94 187.63 L265.04 186.73 L266.14 185.82 L267.23 184.90 L268.32 183.98 L269.39 183.06 L270.46 182.12 L271.51 181.16 L272.55 180.20 L273.59 179.22 L274.61 178.23 L275.63 177.22 L276.63 176.21 L277.61 175.18 L278.56 174.13 L279.50 173.07 L280.43 171.99 L281.35 170.90 L282.25 169.79 L283.14 168.68 L284.02 167.55 L284.87 166.41 L285.71 165.27 L286.53 164.11 L287.32 162.92 L288.09 161.73 L288.85 160.52 L289.60 159.31 L290.36 158.11 L291.12 156.90 L291.86 155.68 L292.58 154.45 L293.25 153.21 L293.88 151.94 L294.48 150.65 L295.05 149.34 L295.61 148.03 L296.17 146.72 L296.75 145.41 L297.35 144.12 L297.98 142.85 L298.67 141.60 L299.40 140.38 L300.15 139.16 L300.90 137.95 L301.62 136.72 L302.28 135.47 L302.87 134.19 L303.42 132.89 L303.94 131.57 L304.44 130.24 L304.91 128.90 L305.38 127.55 L305.84 126.19 L306.30 124.84 L306.76 123.49 L307.23 122.14 L307.71 120.79 L308.21 119.46 L308.74 118.14 L309.27 116.82 L309.81 115.51 L310.36 114.19 L310.91 112.88 L311.46 111.57 L312.02 110.26 L312.57 108.94 L313.11 107.63 L313.65 106.31 L314.18 104.99 L314.71 103.67 L315.23 102.35 L315.75 101.02 L316.26 99.69 L316.77 98.37 L317.28 97.04 L317.78 95.71 L318.28 94.38 L318.78 93.04 L319.26 91.70 L319.75 90.36 L320.23 89.03 L320.71 87.69 L321.21 86.35 L321.71 85.02 L322.19 83.67 L322.66 82.30 L323.13 80.94 L323.64 79.60 L324.19 78.30 L324.81 77.06 L325.53 75.83 L326.38 74.61 L327.33 73.50 L328.38 72.65 L329.64 71.92 L331.05 71.30 L332.37 71.00 L333.51 71.50 L334.53 72.74 L335.26 73.97 L335.84 75.23 L336.34 76.60 L336.76 78.00 L337.10 79.40 L337.38 80.78 L337.62 82.18 L337.83 83.59 L338.03 85.01 L338.24 86.42 L338.46 87.83 L338.69 89.23 L338.91 90.64 L339.13 92.04 L339.35 93.45 L339.58 94.85 L339.81 96.26 L340.06 97.66 L340.31 99.06 L340.56 100.46 L340.80 101.86 L341.02 103.27 L341.22 104.68 L341.40 106.09 L341.57 107.50 L341.74 108.92 L341.92 110.33 L342.12 111.74 L342.31 113.14 L342.52 114.55 L342.72 115.96 L342.92 117.37 L343.12 118.78 L343.32 120.19 L343.51 121.60 L343.71 123.01 L343.90 124.42 L344.09 125.83 L344.27 127.24 L344.45 128.65 L344.61 130.07 L344.75 131.48 L344.89 132.90 L345.03 134.31 L345.15 135.73 L345.26 137.15 L345.36 138.57 L345.45 139.99 L345.53 141.41 L345.60 142.83 L345.68 144.25 L345.75 145.67 L345.83 147.09 L345.91 148.51 L346.00 149.93 L346.10 151.35 L346.21 152.77 L346.33 154.19 L346.46 155.61 L346.61 157.02 L346.80 158.43 L347.00 159.84 L347.20 161.25 L347.39 162.66 L347.58 164.07 L347.79 165.48 L347.99 166.89 L348.18 168.30 L348.36 169.71 L348.51 171.13 L348.65 172.54 L348.77 173.96 L348.88 175.38 L348.98 176.80 L349.07 178.22 L349.16 179.64 L349.25 181.06 L349.34 182.48 L349.43 183.90 L349.52 185.32 L349.61 186.74 L349.70 188.16 L349.79 189.58 L349.88 191.00 L349.97 192.42 L350.07 193.84 L350.17 195.26 L350.27 196.68 L350.39 198.09 L350.51 199.51 L350.65 200.93 L350.79 202.35 L350.93 203.76 L351.08 205.18 L351.23 206.59 L351.39 208.01 L351.55 209.42 L351.71 210.83 L351.88 212.25 L352.06 213.66 L352.24 215.07 L352.42 216.48 L352.61 217.89 L352.80 219.30 L353.00 220.71 L353.19 222.12 L353.37 223.54 L353.56 224.95 L353.76 226.36 L353.96 227.77 L354.18 229.18 L354.43 230.58 L354.69 231.97 L354.99 233.36 L355.36 234.74 L355.79 236.10 L356.26 237.43 L356.84 238.73 L357.50 240.00" fill="none" stroke="#0000ff" stroke-width="1.3" stroke-dasharray="13 2.5 1.5 2.5" stroke-linejoin="round"/>
<path d="M52.50 192.00 L52.55 193.61 L52.67 195.22 L52.85 196.81 L53.06 198.39 L53.29 199.96 L53.60 201.52 L54.01 203.07 L54.49 204.61 L55.01 206.13 L55.52 207.64 L56.08 209.15 L56.67 210.65 L57.32 212.12 L58.02 213.54 L58.82 214.94 L59.73 216.26 L60.77 217.45 L61.96 218.55 L63.20 219.55 L64.51 220.48 L65.86 221.34 L67.25 222.14 L68.66 222.91 L70.11 223.62 L71.59 224.25 L73.08 224.75 L74.61 225.23 L76.17 225.68 L77.74 226.06 L79.32 226.35 L80.91 226.50 L82.49 226.55 L84.09 226.60 L85.69 226.64 L87.29 226.67 L88.90 226.69 L90.50 226.70 L92.10 226.69 L93.70 226.61 L95.30 226.46 L96.89 226.28 L98.49 226.11 L100.08 225.97 L101.68 225.90 L103.27 225.92 L104.87 226.01 L106.46 226.14 L108.06 226.30 L109.65 226.46 L111.25 226.61 L112.85 226.72 L114.44 226.84 L116.04 226.96 L117.64 227.08 L119.24 227.18 L120.84 227.26 L122.43 227.30 L124.03 227.29 L125.63 227.27 L127.23 227.22 L128.83 227.16 L130.43 227.10 L132.03 227.04 L133.67 226.97 L135.65 226.89 L137.77 226.79 L139.70 226.70 L141.12 226.63 L141.70 226.60 L141.98 226.98 L143.19 226.92 L145.02 226.81 L147.13 226.69 L149.15 226.56 L150.81 226.44 L152.40 226.30 L154.00 226.16 L155.59 226.00 L157.18 225.83 L158.77 225.65 L160.36 225.48 L161.95 225.30 L163.54 225.13 L165.14 224.96 L166.73 224.79 L168.32 224.61 L169.91 224.41 L171.50 224.21 L173.09 224.02 L174.68 223.83 L176.28 223.66 L177.87 223.51 L179.46 223.39 L181.06 223.31 L182.65 223.27 L184.25 223.24 L185.85 223.21 L187.45 223.19 L189.05 223.17 L190.66 223.15 L192.26 223.14 L193.86 223.12 L195.46 223.10 L197.06 223.07 L198.66 223.04 L200.26 222.99 L201.85 222.91 L203.45 222.79 L205.05 222.63 L206.64 222.45 L208.22 222.26 L209.81 222.02 L211.39 221.73 L212.96 221.39 L214.52 221.01 L216.05 220.60 L217.57 220.12 L219.07 219.56 L220.55 218.94 L222.03 218.30 L223.49 217.65 L224.95 216.99 L226.39 216.29 L227.82 215.57 L229.24 214.82 L230.65 214.06 L232.05 213.30 L233.44 212.51 L234.82 211.70 L236.19 210.87 L237.56 210.03 L238.92 209.19 L240.28 208.35 L241.65 207.51 L243.01 206.66 L244.36 205.80 L245.69 204.92 L247.02 204.03 L248.32 203.10 L249.60 202.15 L250.87 201.17 L252.13 200.19 L253.40 199.20 L254.67 198.23 L255.95 197.27 L257.24 196.32 L258.54 195.38 L259.83 194.43 L261.10 193.47 L262.36 192.48 L263.62 191.48 L264.87 190.48 L266.13 189.46 L267.36 188.43 L268.58 187.38 L269.76 186.31 L270.91 185.21 L272.01 184.08 L273.07 182.89 L274.10 181.67 L275.10 180.41 L276.07 179.13 L277.03 177.83 L277.97 176.54 L278.90 175.24 L279.81 173.92 L280.70 172.59 L281.58 171.25 L282.45 169.91 L283.32 168.56 L284.18 167.22 L285.05 165.87 L285.91 164.52 L286.76 163.16 L287.60 161.80 L288.42 160.43 L289.24 159.05 L290.05 157.67 L290.84 156.28 L291.62 154.88 L292.37 153.47 L293.10 152.05 L293.82 150.62 L294.52 149.17 L295.19 147.72 L295.81 146.25 L296.41 144.77 L296.97 143.27 L297.52 141.76 L298.06 140.26 L298.60 138.75 L299.14 137.24 L299.66 135.73 L300.18 134.21 L300.69 132.70 L301.20 131.18 L301.71 129.66 L302.23 128.15 L302.75 126.64 L303.28 125.12 L303.80 123.61 L304.32 122.09 L304.83 120.58 L305.33 119.06 L305.82 117.53 L306.29 116.01 L306.74 114.47 L307.18 112.93 L307.60 111.39 L308.01 109.84 L308.41 108.29 L308.81 106.74 L309.21 105.19 L309.61 103.64 L310.02 102.10 L310.45 100.55 L310.88 99.01 L311.33 97.48 L311.79 95.94 L312.25 94.41 L312.72 92.88 L313.20 91.35 L313.67 89.82 L314.15 88.29 L314.62 86.76 L315.08 85.23 L315.54 83.70 L315.98 82.16 L316.41 80.62 L316.83 79.08 L317.26 77.53 L317.68 75.99 L318.10 74.44 L318.51 72.90 L318.92 71.35 L319.33 69.80 L319.73 68.25 L320.12 66.69 L320.51 65.14 L320.88 63.58 L321.25 62.03 L321.60 60.47 L321.94 58.90 L322.27 57.34 L322.58 55.77 L322.85 54.19 L323.11 52.61 L323.36 51.03 L323.62 49.45 L323.91 47.88 L324.26 46.32 L324.65 44.77 L325.08 43.23 L325.55 41.70 L326.05 40.17 L326.57 38.65 L327.10 37.14 L327.63 35.63 L328.15 34.08 L328.69 32.52 L329.30 31.04 L330.06 29.72 L331.16 28.61 L332.45 27.58 L333.52 27.80 L334.57 29.07 L335.60 30.34 L336.36 31.69 L336.82 33.13 L337.19 34.66 L337.50 36.24 L337.77 37.85 L338.02 39.47 L338.27 41.08 L338.53 42.67 L338.77 44.25 L339.01 45.83 L339.23 47.41 L339.45 49.00 L339.67 50.59 L339.88 52.17 L340.11 53.76 L340.34 55.34 L340.57 56.92 L340.80 58.51 L341.01 60.09 L341.22 61.68 L341.42 63.27 L341.61 64.86 L341.79 66.45 L341.96 68.04 L342.10 69.63 L342.24 71.23 L342.37 72.82 L342.48 74.42 L342.60 76.02 L342.71 77.61 L342.82 79.21 L342.94 80.81 L343.06 82.40 L343.20 84.00 L343.35 85.59 L343.51 87.18 L343.68 88.77 L343.84 90.36 L344.00 91.96 L344.14 93.55 L344.28 95.15 L344.42 96.74 L344.55 98.33 L344.69 99.93 L344.82 101.52 L344.95 103.12 L345.08 104.71 L345.21 106.31 L345.35 107.90 L345.49 109.50 L345.63 111.09 L345.78 112.69 L345.94 114.28 L346.09 115.87 L346.25 117.47 L346.41 119.06 L346.56 120.65 L346.71 122.25 L346.86 123.84 L347.00 125.43 L347.14 127.03 L347.26 128.62 L347.38 130.22 L347.49 131.81 L347.59 133.41 L347.68 135.01 L347.76 136.60 L347.85 138.20 L347.93 139.80 L348.00 141.40 L348.07 143.00 L348.14 144.60 L348.21 146.20 L348.28 147.80 L348.35 149.40 L348.42 150.99 L348.49 152.59 L348.56 154.19 L348.64 155.79 L348.72 157.39 L348.80 158.99 L348.87 160.59 L348.95 162.19 L349.02 163.78 L349.10 165.38 L349.18 166.98 L349.25 168.58 L349.33 170.18 L349.41 171.78 L349.50 173.38 L349.59 174.97 L349.68 176.57 L349.78 178.17 L349.88 179.76 L350.00 181.36 L350.12 182.96 L350.25 184.55 L350.39 186.14 L350.53 187.74 L350.68 189.33 L350.84 190.92 L351.00 192.52 L351.17 194.11 L351.34 195.70 L351.51 197.29 L351.68 198.88 L351.85 200.48 L352.05 202.06 L352.25 203.65 L352.42 205.24 L352.57 206.84 L352.70 208.43 L352.82 210.03 L352.92 211.63 L353.03 213.23 L353.14 214.83 L353.26 216.42 L353.40 218.02 L353.55 219.61 L353.72 221.19 L353.94 222.77 L354.21 224.35 L354.51 225.92 L354.83 227.49 L355.17 229.06 L355.51 230.63 L355.84 232.19 L356.17 233.76 L356.52 235.32 L356.87 236.88 L357.23 238.44 L357.60 240.00" fill="none" stroke="#000000" stroke-width="1.3" stroke-linejoin="round"/>
<rect x="116.65" y="29.6" width="77.15" height="63.800000000000004" fill="#fff"/>
<rect x="116.65" y="122.65" width="77.15" height="64.1" fill="#fff"/>
<path d="M116.65 93.4 v-1.90 M116.65 29.6 v1.90 M122.82 93.4 v-1.90 M122.82 29.6 v1.90 M128.99 93.4 v-1.90 M128.99 29.6 v1.90 M135.17 93.4 v-1.90 M135.17 29.6 v1.90 M141.34 93.4 v-1.90 M141.34 29.6 v1.90 M147.51 93.4 v-1.90 M147.51 29.6 v1.90 M153.68 93.4 v-1.90 M153.68 29.6 v1.90 M159.85 93.4 v-1.90 M159.85 29.6 v1.90 M166.03 93.4 v-1.90 M166.03 29.6 v1.90 M172.20 93.4 v-1.90 M172.20 29.6 v1.90 M178.37 93.4 v-1.90 M178.37 29.6 v1.90 M184.54 93.4 v-1.90 M184.54 29.6 v1.90 M190.71 93.4 v-1.90 M190.71 29.6 v1.90 M116.65 93.40 h1.9 M193.8 93.40 h-1.9 M116.65 90.85 h1.9 M193.8 90.85 h-1.9 M116.65 88.30 h1.9 M193.8 88.30 h-1.9 M116.65 85.74 h1.9 M193.8 85.74 h-1.9 M116.65 83.19 h1.9 M193.8 83.19 h-1.9 M116.65 80.64 h1.9 M193.8 80.64 h-1.9 M116.65 78.09 h1.9 M193.8 78.09 h-1.9 M116.65 75.54 h1.9 M193.8 75.54 h-1.9 M116.65 72.98 h1.9 M193.8 72.98 h-1.9 M116.65 70.43 h1.9 M193.8 70.43 h-1.9 M116.65 67.88 h1.9 M193.8 67.88 h-1.9 M116.65 65.33 h1.9 M193.8 65.33 h-1.9 M116.65 62.78 h1.9 M193.8 62.78 h-1.9 M116.65 60.22 h1.9 M193.8 60.22 h-1.9 M116.65 57.67 h1.9 M193.8 57.67 h-1.9 M116.65 55.12 h1.9 M193.8 55.12 h-1.9 M116.65 52.57 h1.9 M193.8 52.57 h-1.9 M116.65 50.02 h1.9 M193.8 50.02 h-1.9 M116.65 47.46 h1.9 M193.8 47.46 h-1.9 M116.65 44.91 h1.9 M193.8 44.91 h-1.9 M116.65 42.36 h1.9 M193.8 42.36 h-1.9 M116.65 39.81 h1.9 M193.8 39.81 h-1.9 M116.65 37.26 h1.9 M193.8 37.26 h-1.9 M116.65 34.70 h1.9 M193.8 34.70 h-1.9 M116.65 32.15 h1.9 M193.8 32.15 h-1.9 M116.65 29.60 h1.9 M193.8 29.60 h-1.9" stroke="#222" stroke-width="0.7" fill="none"/>
<path d="M116.65 93.4 v-2.80 M116.65 29.6 v2.80 M147.51 93.4 v-2.80 M147.51 29.6 v2.80 M178.37 93.4 v-2.80 M178.37 29.6 v2.80 M116.65 93.40 h2.8 M193.8 93.40 h-2.8 M116.65 80.64 h2.8 M193.8 80.64 h-2.8 M116.65 67.88 h2.8 M193.8 67.88 h-2.8 M116.65 55.12 h2.8 M193.8 55.12 h-2.8 M116.65 42.36 h2.8 M193.8 42.36 h-2.8 M116.65 29.60 h2.8 M193.8 29.60 h-2.8" stroke="#222" stroke-width="0.8" fill="none"/>
<rect x="116.65" y="29.6" width="77.15" height="63.80" fill="none" stroke="#000" stroke-width="1.05"/>
<path d="M116.65 186.75 v-1.90 M116.65 122.65 v1.90 M122.82 186.75 v-1.90 M122.82 122.65 v1.90 M128.99 186.75 v-1.90 M128.99 122.65 v1.90 M135.17 186.75 v-1.90 M135.17 122.65 v1.90 M141.34 186.75 v-1.90 M141.34 122.65 v1.90 M147.51 186.75 v-1.90 M147.51 122.65 v1.90 M153.68 186.75 v-1.90 M153.68 122.65 v1.90 M159.85 186.75 v-1.90 M159.85 122.65 v1.90 M166.03 186.75 v-1.90 M166.03 122.65 v1.90 M172.20 186.75 v-1.90 M172.20 122.65 v1.90 M178.37 186.75 v-1.90 M178.37 122.65 v1.90 M184.54 186.75 v-1.90 M184.54 122.65 v1.90 M190.71 186.75 v-1.90 M190.71 122.65 v1.90 M116.65 186.75 h1.9 M193.8 186.75 h-1.9 M116.65 180.34 h1.9 M193.8 180.34 h-1.9 M116.65 173.93 h1.9 M193.8 173.93 h-1.9 M116.65 167.52 h1.9 M193.8 167.52 h-1.9 M116.65 161.11 h1.9 M193.8 161.11 h-1.9 M116.65 154.70 h1.9 M193.8 154.70 h-1.9 M116.65 148.29 h1.9 M193.8 148.29 h-1.9 M116.65 141.88 h1.9 M193.8 141.88 h-1.9 M116.65 135.47 h1.9 M193.8 135.47 h-1.9 M116.65 129.06 h1.9 M193.8 129.06 h-1.9 M116.65 122.65 h1.9 M193.8 122.65 h-1.9" stroke="#222" stroke-width="0.7" fill="none"/>
<path d="M116.65 186.75 v-2.80 M116.65 122.65 v2.80 M147.51 186.75 v-2.80 M147.51 122.65 v2.80 M178.37 186.75 v-2.80 M178.37 122.65 v2.80 M116.65 186.75 h2.8 M193.8 186.75 h-2.8 M116.65 154.70 h2.8 M193.8 154.70 h-2.8 M116.65 122.65 h2.8 M193.8 122.65 h-2.8" stroke="#222" stroke-width="0.8" fill="none"/>
<rect x="116.65" y="122.65" width="77.15" height="64.10" fill="none" stroke="#000" stroke-width="1.05"/>
<path d="M116.65 68.62 L193.80 38.05" stroke="#000" stroke-width="1.25" stroke-dasharray="2.8 2.2" fill="none"/>
<path d="M116.65 86.38 L193.80 81.20" stroke="#000" stroke-width="1.25" fill="none"/>
<rect x="153.05" y="51.15" width="4.1" height="4.1" fill="#000"/>
<path d="M153.13 82.89 h4.2 l-2.1 3.3 z" fill="#000"/>
<rect x="162.65" y="48.35" width="4.1" height="4.1" fill="#000"/>
<path d="M162.77 82.24 h4.2 l-2.1 3.3 z" fill="#000"/>
<rect x="169.55" y="44.05" width="4.1" height="4.1" fill="#000"/>
<path d="M169.66 81.78 h4.2 l-2.1 3.3 z" fill="#000"/>
<rect x="178.95" y="41.75" width="4.1" height="4.1" fill="#000"/>
<path d="M178.84 81.16 h4.2 l-2.1 3.3 z" fill="#000"/>
<rect x="191.75" y="35.95" width="4.1" height="4.1" fill="#000"/>
<path d="M191.70 80.30 h4.2 l-2.1 3.3 z" fill="#000"/>
<path d="M116.65 177.81 L193.80 144.89" stroke="#000" stroke-width="1.25" stroke-dasharray="2.8 2.2" fill="none"/>
<rect x="153.60" y="159.60" width="3.2" height="3.2" fill="#000"/>
<rect x="163.20" y="155.70" width="3.2" height="3.2" fill="#000"/>
<rect x="169.80" y="152.50" width="3.2" height="3.2" fill="#000"/>
<rect x="179.20" y="147.80" width="3.2" height="3.2" fill="#000"/>
<rect x="192.00" y="143.60" width="3.2" height="3.2" fill="#000"/>
<path d="M160.4 36.1 h3 m2 0 h2.8" stroke="#000" stroke-width="1.25" fill="none"/>
<path d="M160.4 43.5 h8.3" stroke="#000" stroke-width="1.25" fill="none"/>
<path d="M329.9 177.7 h2.1 m4.2 0 h6.3" stroke="#ff0000" stroke-width="1.3" fill="none"/>
<path d="M330.2 190.8 h3.9 m6.3 0 h1.3" stroke="#ffa500" stroke-width="1.3" fill="none"/>
<path d="M329.7 204.0 h2.1 m3.2 0 h2.1 m3.2 0 h2.1" stroke="#ff00ff" stroke-width="1.3" fill="none"/>
<path d="M330 217.2 h12.2" stroke="#0000ff" stroke-width="1.3" fill="none"/>
<path d="M330 230.3 h12.2" stroke="#000000" stroke-width="1.3" fill="none"/>
</svg>
<svg width="382" height="267" viewBox="0 0 382 267" style="position:absolute;left:0;top:0;filter:grayscale(1)" text-rendering="geometricPrecision" stroke="#000" stroke-width="0.1">
<text x="43.3" y="244.79999999999998" font-family="'Liberation Serif', serif" font-size="13.5" text-anchor="end" fill="#000">0</text>
<text x="43.3" y="219.88333333333333" font-family="'Liberation Serif', serif" font-size="13.5" text-anchor="end" fill="#000">0.5</text>
<text x="43.3" y="194.96666666666664" font-family="'Liberation Serif', serif" font-size="13.5" text-anchor="end" fill="#000">1</text>
<text x="43.3" y="170.04999999999998" font-family="'Liberation Serif', serif" font-size="13.5" text-anchor="end" fill="#000">1.5</text>
<text x="43.3" y="145.1333333333333" font-family="'Liberation Serif', serif" font-size="13.5" text-anchor="end" fill="#000">2</text>
<text x="43.3" y="120.21666666666665" font-family="'Liberation Serif', serif" font-size="13.5" text-anchor="end" fill="#000">2.5</text>
<text x="43.3" y="95.29999999999998" font-family="'Liberation Serif', serif" font-size="13.5" text-anchor="end" fill="#000">3</text>
<text x="43.3" y="70.38333333333333" font-family="'Liberation Serif', serif" font-size="13.5" text-anchor="end" fill="#000">3.5</text>
<text x="43.3" y="45.46666666666665" font-family="'Liberation Serif', serif" font-size="13.5" text-anchor="end" fill="#000">4</text>
<text x="43.3" y="20.54999999999999" font-family="'Liberation Serif', serif" font-size="13.5" text-anchor="end" fill="#000">4.5</text>
<text x="53.0" y="258.4" font-family="'Liberation Serif', serif" font-size="13.5" text-anchor="middle" fill="#000">0</text>
<text x="114.25999999999999" y="258.4" font-family="'Liberation Serif', serif" font-size="13.5" text-anchor="middle" fill="#000">0.2</text>
<text x="175.51999999999998" y="258.4" font-family="'Liberation Serif', serif" font-size="13.5" text-anchor="middle" fill="#000">0.4</text>
<text x="236.77999999999997" y="258.4" font-family="'Liberation Serif', serif" font-size="13.5" text-anchor="middle" fill="#000">0.6</text>
<text x="298.03999999999996" y="258.4" font-family="'Liberation Serif', serif" font-size="13.5" text-anchor="middle" fill="#000">0.8</text>
<text x="359.29999999999995" y="258.4" font-family="'Liberation Serif', serif" font-size="13.5" text-anchor="middle" fill="#000">1</text>
<text x="5.7" y="96.6" font-family="'Liberation Serif', serif" font-size="16" text-anchor="end" fill="#000">P</text>
<text x="5.7" y="96.6" font-family="'Liberation Serif', serif" font-size="16" text-anchor="start" fill="#000">(</text>
<text x="33.7" y="96.6" font-family="'Liberation Serif', serif" font-size="16" text-anchor="end" fill="#000">)</text>
<text x="21.0" y="96.6" font-family="'Liberation Sans', sans-serif" font-size="14.6" text-anchor="middle" fill="#000">Q</text>
<path d="M13.1 84.4 v15 M27.8 84.4 v15" stroke="#000" stroke-width="0.9" fill="none"/>
<text x="207.9" y="270" font-family="'Liberation Sans', sans-serif" font-size="14.6" text-anchor="middle" fill="#000">Q</text>
<path d="M200.4 257.4 v12 M215.2 257.4 v12" stroke="#000" stroke-width="1.25" fill="none"/>
<text x="57.8" y="33.9" font-family="'Liberation Serif', serif" font-size="16" text-anchor="start" fill="#000">(a)</text>
<text x="220.6" y="101.4" font-family="'Liberation Serif', serif" font-size="16" text-anchor="start" fill="#000">T=0.0</text>
<text x="220.6" y="121.5" font-family="'Liberation Serif', serif" font-size="16" text-anchor="start" fill="#000">Γ=0.3</text>
<text x="322.2" y="182.1" font-family="'Liberation Serif', serif" font-size="13.4" text-anchor="end" fill="#000">N=10</text>
<text x="322.2" y="195.2" font-family="'Liberation Serif', serif" font-size="13.4" text-anchor="end" fill="#000">N=12</text>
<text x="322.2" y="208.4" font-family="'Liberation Serif', serif" font-size="13.4" text-anchor="end" fill="#000">N=16</text>
<text x="322.2" y="221.6" font-family="'Liberation Serif', serif" font-size="13.4" text-anchor="end" fill="#000">N=20</text>
<text x="322.2" y="234.7" font-family="'Liberation Serif', serif" font-size="13.4" text-anchor="end" fill="#000">Extrapolated</text>
<text x="108.3" y="96.2" font-family="'Liberation Serif', serif" font-size="7.5" text-anchor="end" fill="#000">0</text>
<text x="108.3" y="83.44" font-family="'Liberation Serif', serif" font-size="7.5" text-anchor="end" fill="#000">0.5</text>
<text x="108.3" y="70.67999999999999" font-family="'Liberation Serif', serif" font-size="7.5" text-anchor="end" fill="#000">1</text>
<text x="108.3" y="57.92" font-family="'Liberation Serif', serif" font-size="7.5" text-anchor="end" fill="#000">1.5</text>
<text x="108.3" y="45.16" font-family="'Liberation Serif', serif" font-size="7.5" text-anchor="end" fill="#000">2</text>
<text x="108.3" y="32.400000000000006" font-family="'Liberation Serif', serif" font-size="7.5" text-anchor="end" fill="#000">2.5</text>
<text x="108.3" y="189.55" font-family="'Liberation Serif', serif" font-size="7.5" text-anchor="end" fill="#000">0.1</text>
<text x="108.3" y="157.5" font-family="'Liberation Serif', serif" font-size="7.5" text-anchor="end" fill="#000">0.2</text>
<text x="108.3" y="125.45" font-family="'Liberation Serif', serif" font-size="7.5" text-anchor="end" fill="#000">0.3</text>
<text x="117.55000000000001" y="109.4" font-family="'Liberation Serif', serif" font-size="8" text-anchor="middle" fill="#000">0</text>
<text x="117.55000000000001" y="203.0" font-family="'Liberation Serif', serif" font-size="8" text-anchor="middle" fill="#000">0</text>
<text x="148.41000000000003" y="109.4" font-family="'Liberation Serif', serif" font-size="8" text-anchor="middle" fill="#000">0.04</text>
<text x="148.41000000000003" y="203.0" font-family="'Liberation Serif', serif" font-size="8" text-anchor="middle" fill="#000">0.04</text>
<text x="179.27" y="109.4" font-family="'Liberation Serif', serif" font-size="8" text-anchor="middle" fill="#000">0.08</text>
<text x="179.27" y="203.0" font-family="'Liberation Serif', serif" font-size="8" text-anchor="middle" fill="#000">0.08</text>
<text x="103.5" y="45" font-size="10" text-anchor="end" fill="#000"><tspan font-family="'Liberation Serif', serif">P(</tspan><tspan font-family="'Liberation Sans', sans-serif">|Q|</tspan><tspan font-family="'Liberation Serif', serif">)</tspan></text>
<text x="90.8" y="142.3" font-family="'Liberation Serif', serif" font-size="10" text-anchor="start" fill="#000">W</text>
<text x="153.8" y="118.5" font-size="10" fill="#000" font-family="'Liberation Serif', serif">N<tspan dy="-5" font-size="8">-1</tspan></text>
<text x="155.2" y="211.5" font-size="12" fill="#000" font-family="'Liberation Serif', serif">N<tspan dy="-5.7" font-size="9.6">-1</tspan></text>
<text x="156.3" y="38.5" font-size="8" text-anchor="end" fill="#000" font-family="'Liberation Serif', serif">=0.0</text>
<text x="138" y="38.5" font-size="6.8" text-anchor="middle" fill="#000" font-family="'Liberation Sans', sans-serif">Q</text>
<path d="M134.8 33.0 v7.6 M141.2 33.0 v7.6" stroke="#000" stroke-width="0.7" fill="none"/>
<text x="156.3" y="46.2" font-size="8" text-anchor="end" fill="#000" font-family="'Liberation Serif', serif">=0.2</text>
<text x="138" y="46.2" font-size="6.8" text-anchor="middle" fill="#000" font-family="'Liberation Sans', sans-serif">Q</text>
<path d="M134.8 40.7 v7.6 M141.2 40.7 v7.6" stroke="#000" stroke-width="0.7" fill="none"/>
</svg>
</body></html>
